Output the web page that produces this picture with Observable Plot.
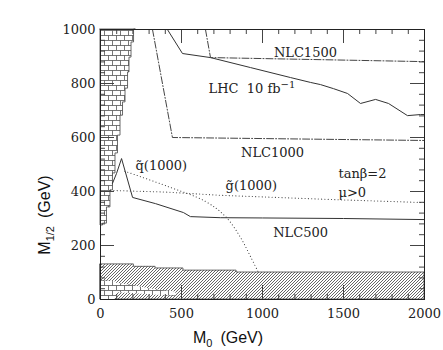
<!DOCTYPE html>
<html><head><meta charset="utf-8">
<script src="https://cdn.jsdelivr.net/npm/d3@7"></script>
<script src="https://cdn.jsdelivr.net/npm/@observablehq/plot@0.6"></script>
<style>body{margin:0;background:#fff}</style>
</head><body><div id="chart"></div>
<script>
// ---- data (M0, M1/2 in GeV) ----
const m0Ticks = [0, 500, 1000, 1500, 2000];
const m12Ticks = [0, 200, 400, 600, 800, 1000];

const lhcM0  = [413, 506, 679, 926, 1173, 1296, 1358, 1438, 1525, 1605, 1698, 1778, 1895, 1975, 2000];
const lhcM12 = [1000, 911, 896, 859, 822, 804, 796, 781, 763, 726, 741, 726, 681, 685, 685];

const nlc500M0  = [74, 99, 130, 198, 340, 512, 555, 740, 1000, 1500, 2000];
const nlc500M12 = [430, 467, 522, 378, 355, 322, 307, 303, 302, 300, 296];

const nlc1000M0  = [321, 444, 2000];
const nlc1000M12 = [1000, 600, 589];

const nlc1500M0  = [648, 679, 2000];
const nlc1500M12 = [1000, 896, 881];

const squarkM0  = [150, 414, 648, 772, 864, 926, 975];
const squarkM12 = [475, 419, 363, 307, 230, 159, 100];

const gluinoM0  = [62, 400, 740, 1440, 2000];
const gluinoM12 = [404, 398, 386, 370, 359];

// excluded (theory) region, left edge
const brickEdgeM0  = [216, 198, 185, 173, 167, 142, 136, 111, 105, 80, 74, 49, 31, 0];
const brickEdgeM12 = [1000, 952, 896, 841, 781, 730, 681, 607, 541, 467, 404, 341, 281, 274];

// experimentally excluded region (hatched), top edge
const hatchM0  = [0, 206, 206, 340, 340, 512, 512, 840, 840, 2000];
const hatchTop = [130, 130, 121, 121, 115, 115, 107, 107, 100, 100];

// small brick region inside the hatch
const lowBrickM0  = [0, 90, 100, 200, 300, 460, 470];
const lowBrickTop = [70, 66, 60, 52, 40, 28, 20];
const lowBrickBot = [0, 0, 25, 22, 18, 12, 12];

// labels
const labelText = ["NLC1500", "LHC  10 fb", "NLC1000", "tan\u03B2=2", "\u03BC>0", "g\u0303(1000)", "q\u0303(1000)", "NLC500"];
const labelM0   = [1265, 667, 1062, 1469, 1469, 772, 216, 1235];
const labelM12  = [915, 781, 544, 467, 396, 422, 496, 248];
const labelAnchor = ["middle", "start", "middle", "start", "start", "start", "start", "middle"];

// ---- build tables ----
const zip = (xs, ys) => xs.map((x, i) => ({x, y: ys[i]}));
const lhc = zip(lhcM0, lhcM12);
const nlc500 = zip(nlc500M0, nlc500M12);
const nlc1000 = zip(nlc1000M0, nlc1000M12);
const nlc1500 = zip(nlc1500M0, nlc1500M12);
const squark = zip(squarkM0, squarkM12);
const gluino = zip(gluinoM0, gluinoM12);
const brickEdge = zip(brickEdgeM0, brickEdgeM12);
const hatch = zip(hatchM0, hatchTop);
const lowBrick = lowBrickM0.map((x, i) => ({x, y1: lowBrickBot[i], y2: lowBrickTop[i]}));
const labels = labelText.map((t, i) => ({t, x: labelM0[i], y: labelM12[i], a: labelAnchor[i]}));

const xMinor = d3.range(0, 2001, 100).filter(v => v % 500 !== 0);
const yMinor = d3.range(0, 1001, 40).filter(v => v % 200 !== 0);
const xMajor = [500, 1000, 1500];
const yMajor = [200, 400, 600, 800];

const W = 443, H = 350;
const mL = 100, mR = 19, mT = 29, mB = 51;
const pxX = 2000 / (W - mL - mR);   // data units per px
const pxY = 1000 / (H - mT - mB);
const tMaj = 14, tMin = 5;

const tickCol = "#444";
const textMarks = (anchor) => Plot.text(labels.filter(d => d.a === anchor), {
  x: "x", y: "y", text: "t", textAnchor: anchor, fontSize: 13, fill: "#222"
});

const plot = Plot.plot({
  width: W, height: H,
  marginLeft: mL, marginRight: mR, marginTop: mT, marginBottom: mB,
  style: {fontFamily: "DejaVu Serif", fontSize: "13px", background: "#fff", color: "#222"},
  x: {domain: [0, 2000]},
  y: {domain: [0, 1000]},
  marks: [
    Plot.areaY(hatch, {x: "x", y1: 0, y2: "y", fill: "url(#hatch)", stroke: "#444", strokeWidth: 0.8}),
    Plot.areaY(lowBrick, {x: "x", y1: "y1", y2: "y2", fill: "url(#bricks)"}),
    Plot.areaX(brickEdge, {y: "y", x1: 0, x2: "x", curve: "step", fill: "url(#bricks)", stroke: "#444", strokeWidth: 0.8}),
    Plot.line(lhc, {x: "x", y: "y", stroke: "#333", strokeWidth: 1}),
    Plot.line(nlc500, {x: "x", y: "y", stroke: "#333", strokeWidth: 1}),
    Plot.line(nlc1000, {x: "x", y: "y", stroke: "#444", strokeWidth: 1, strokeDasharray: "7,2,1,2"}),
    Plot.line(nlc1500, {x: "x", y: "y", stroke: "#444", strokeWidth: 1, strokeDasharray: "7,2,1,2"}),
    Plot.line(squark, {x: "x", y: "y", stroke: "#444", strokeWidth: 1.1, strokeDasharray: "0.1,3.2", strokeLinecap: "round", curve: "catmull-rom"}),
    Plot.line(gluino, {x: "x", y: "y", stroke: "#444", strokeWidth: 1.1, strokeDasharray: "0.1,3.2", strokeLinecap: "round"}),
    // inward ticks
    Plot.ruleX(xMinor, {x: d => d, y1: 0, y2: tMin * pxY, stroke: tickCol}),
    Plot.ruleX(xMinor, {x: d => d, y1: 1000, y2: 1000 - tMin * pxY, stroke: tickCol}),
    Plot.ruleX(xMajor, {x: d => d, y1: 0, y2: tMaj * pxY, stroke: tickCol}),
    Plot.ruleX(xMajor, {x: d => d, y1: 1000, y2: 1000 - tMaj * pxY, stroke: tickCol}),
    Plot.ruleY(yMinor, {y: d => d, x1: 0, x2: tMin * pxX, stroke: tickCol}),
    Plot.ruleY(yMinor, {y: d => d, x1: 2000, x2: 2000 - tMin * pxX, stroke: tickCol}),
    Plot.ruleY(yMajor, {y: d => d, x1: 0, x2: tMaj * pxX, stroke: tickCol}),
    Plot.ruleY(yMajor, {y: d => d, x1: 2000, x2: 2000 - tMaj * pxX, stroke: tickCol}),
    Plot.frame({stroke: "#222", strokeWidth: 1}),
    Plot.axisX(m0Ticks, {tickSize: 0, tickPadding: 9, label: null, fontSize: 13, tickFormat: d3.format("d")}),
    Plot.axisY(m12Ticks, {tickSize: 0, tickPadding: 5, label: null, fontSize: 13, tickFormat: d3.format("d")}),
    textMarks("middle"),
    textMarks("start")
  ]
});

const svg = d3.select(plot);
const defs = svg.insert("defs", ":first-child");
const hp = defs.append("pattern").attr("id", "hatch").attr("patternUnits", "userSpaceOnUse")
  .attr("width", 3).attr("height", 3);
hp.append("rect").attr("width", 3).attr("height", 3).attr("fill", "#fff");
hp.append("path").attr("d", "M-1,1 L1,-1 M0,3 L3,0 M2,4 L4,2").attr("stroke", "#333").attr("stroke-width", 0.75);
const bp = defs.append("pattern").attr("id", "bricks").attr("patternUnits", "userSpaceOnUse")
  .attr("width", 8).attr("height", 10);
bp.append("rect").attr("width", 8).attr("height", 10).attr("fill", "#fff");
bp.append("path").attr("d", "M0,0.5 H8 M0,5.5 H8 M0.5,0.5 V5.5 M4.5,5.5 V10.5")
  .attr("stroke", "#555").attr("stroke-width", 0.8).attr("fill", "none");

// superscript on LHC label
svg.selectAll("text").filter(function() { return this.textContent === "LHC  10 fb"; })
  .each(function() {
    d3.select(this).attr("xml:space", "preserve").style("white-space", "pre");
    d3.select(this).append("tspan").attr("dy", "-0.5em").attr("font-size", 10).text("\u22121");
  });

// axis titles
const xt = svg.append("text").attr("x", 228).attr("y", 343)
  .attr("font-family", "Liberation Sans").attr("font-size", 16).attr("fill", "#111");
xt.append("tspan").text("M");
xt.append("tspan").attr("dy", 4).attr("font-size", 11).text("0");
xt.append("tspan").attr("dy", -4).attr("dx", 8).text("(GeV)");

const yt = svg.append("text").attr("transform", "translate(50,215) rotate(-90)")
  .attr("font-family", "Liberation Sans").attr("font-size", 16).attr("fill", "#111");
yt.append("tspan").text("M");
yt.append("tspan").attr("dy", 4).attr("font-size", 11).text("1/2");
yt.append("tspan").attr("dy", -4).attr("dx", 8).text("(GeV)");

document.getElementById("chart").appendChild(plot);
</script>
</body></html>
